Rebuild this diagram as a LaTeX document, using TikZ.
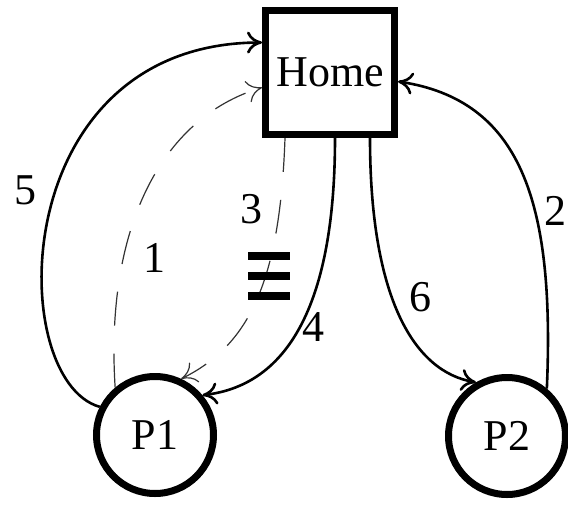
\documentclass[tikz,border=0pt]{standalone}
\usepackage{fontspec}
\setmainfont{Liberation Serif}
\usetikzlibrary{arrows.meta}

\begin{document}
\begin{tikzpicture}[x=0.5pt,y=-0.5pt,
  >={Computer Modern Rightarrow[length=7.5pt,width=11pt]},
  every node/.style={font=\fontsize{22}{26}\selectfont},
  place/.style={draw,line width=3.5pt,circle,minimum size=58.5pt,inner sep=0pt},
  house/.style={draw,line width=3.5pt,minimum width=64.5pt,minimum height=62pt,inner sep=0pt},
  trip/.style={->,line width=1.3pt},
  hop/.style={->,line width=0.6pt,draw=black!80,dash pattern=on 17pt off 14pt}]
\useasboundingbox (0,0) rectangle (568,504);

\node[house] (home) at (330,72.5) {Home};
\node[place] (p1) at (155,435) {P1};
\node[place] (p2) at (507,436) {P2};

\draw[hop] (p1.130) .. controls (105,230) and (160,118) .. ([yshift=-7.5pt]home.west);
\draw[trip] (p2.50) .. controls (555,200) and (520,100) .. ([yshift=-4.5pt]home.east);
\draw[hop] ([xshift=-22.5pt]home.south) .. controls (280,280) and (250,345) .. (p1.65);
\draw[trip] ([xshift=2.5pt]home.south) .. controls (335,300) and (290,385) .. (p1.40);
\draw[trip] (p1.153) .. controls (5,380) and (5,43) .. ([yshift=15pt]home.west);
\draw[trip] ([xshift=20pt]home.south) .. controls (370,300) and (415,372) .. (p2.120);

% the crossed-out mark on the dashed return
\foreach \y in {256,276,296}
  \draw[line width=4pt] (248,\y) -- (290,\y);

\node (l1) at (154,258) {1};
\node (l2) at (555,211) {2};
\node (l3) at (251,209) {3};
\node (l4) at (313,327) {4};
\node (l5) at (25,190) {5};
\node (l6) at (420,297) {6};
\end{tikzpicture}
\end{document}
